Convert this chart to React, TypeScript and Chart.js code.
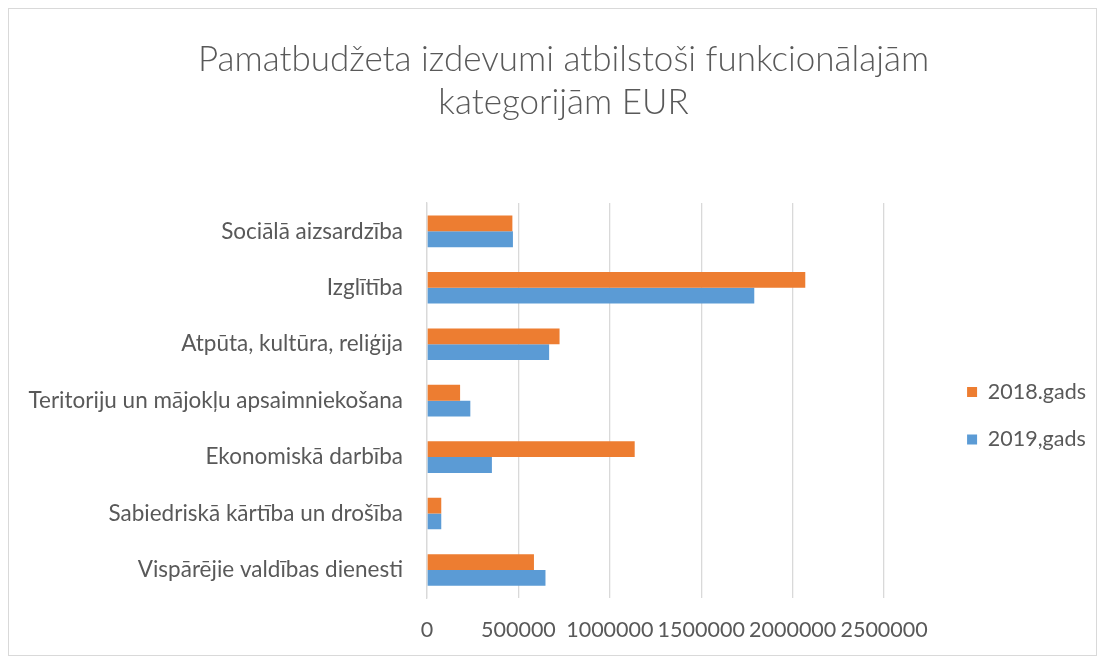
import React, { useEffect, useRef } from "react";
import { Chart, registerables } from "chart.js";

Chart.register(...registerables);

const categories = [
  "Sociālā aizsardzība",
  "Izglītība",
  "Atpūta, kultūra, reliģija",
  "Teritoriju un mājokļu apsaimniekošana",
  "Ekonomiskā darbība",
  "Sabiedriskā kārtība un drošība",
  "Vispārējie valdības dienesti",
];

const values2018 = [467000, 2069000, 725000, 181000, 1136000, 78000, 585000];
const values2019 = [470000, 1790000, 668000, 237000, 355000, 78000, 648000];

const seriesLabels = ["2018.gads", "2019,gads"];
const titleLines = ["Pamatbudžeta izdevumi atbilstoši funkcionālajām", "kategorijām EUR"];
const xTicks = { min: 0, max: 2500000, step: 500000 };

const TEXT = "#595959";
const GRID = "#d9d9d9";
const FONT = "Lato, 'Open Sans', sans-serif";

const titleShift = {
  id: "titleShift",
  afterLayout(chart: any) {
    if (chart.titleBlock) chart.titleBlock.left += 22;
  },
};

export default function App() {
  const ref = useRef<HTMLCanvasElement | null>(null);

  useEffect(() => {
    if (!ref.current) return;
    const chart = new Chart(ref.current, {
      type: "bar",
      data: {
        labels: categories,
        datasets: [
          {
            label: seriesLabels[0],
            data: values2018,
            backgroundColor: "#ED7D31",
            categoryPercentage: 0.56,
            barPercentage: 1,
          },
          {
            label: seriesLabels[1],
            data: values2019,
            backgroundColor: "#5B9BD5",
            categoryPercentage: 0.56,
            barPercentage: 1,
          },
        ],
      },
      plugins: [titleShift],
      options: {
        indexAxis: "y",
        responsive: false,
        animation: false,
        layout: { padding: { left: 0, right: 0, top: 0, bottom: -7 } },
        plugins: {
          title: {
            display: true,
            text: titleLines,
            color: TEXT,
            font: { family: FONT, size: 35, weight: "300", lineHeight: 1.23 },
            padding: { top: 29.5, bottom: 78.5 },
          },
          legend: {
            position: "right",
            fullSize: false,
            title: {
              display: true,
              text: "",
              font: { family: FONT, size: 10, lineHeight: 1.2 },
              padding: 9,
            },
            labels: {
              color: TEXT,
              font: { family: FONT, size: 21.5 },
              boxWidth: 10,
              boxHeight: 10,
              padding: 26,
            },
          },
          tooltip: { enabled: false },
        },
        scales: {
          x: {
            min: xTicks.min,
            max: xTicks.max,
            ticks: {
              stepSize: xTicks.step,
              color: TEXT,
              font: { family: FONT, size: 21.5 },
              padding: 19,
              maxRotation: 0,
              callback: (v: any) => String(v),
            },
            grid: { color: GRID, lineWidth: 1.3, drawTicks: false },
            border: { display: false },
          },
          y: {
            ticks: {
              color: TEXT,
              font: { family: FONT, size: 22.5 },
              padding: 24,
            },
            grid: { display: false, drawTicks: false },
            border: { display: true, color: GRID, width: 1.3 },
            afterFit: (s: any) => {
              s.width = 418;
            },
          },
          gap: {
            type: "linear",
            axis: "y",
            position: "right",
            display: true,
            grid: { display: false, drawTicks: false },
            ticks: { display: false },
            border: { display: false },
            afterFit: (s: any) => {
              s.width = 57;
            },
          },
        },
      } as any,
    });
    return () => chart.destroy();
  }, []);

  return (
    <div
      style={{
        width: 1089,
        height: 648,
        border: `1px solid ${GRID}`,
        boxSizing: "border-box",
        background: "#fff",
      }}
    >
      <canvas ref={ref} width={1087} height={646} style={{ display: "block" }} />
    </div>
  );
}
